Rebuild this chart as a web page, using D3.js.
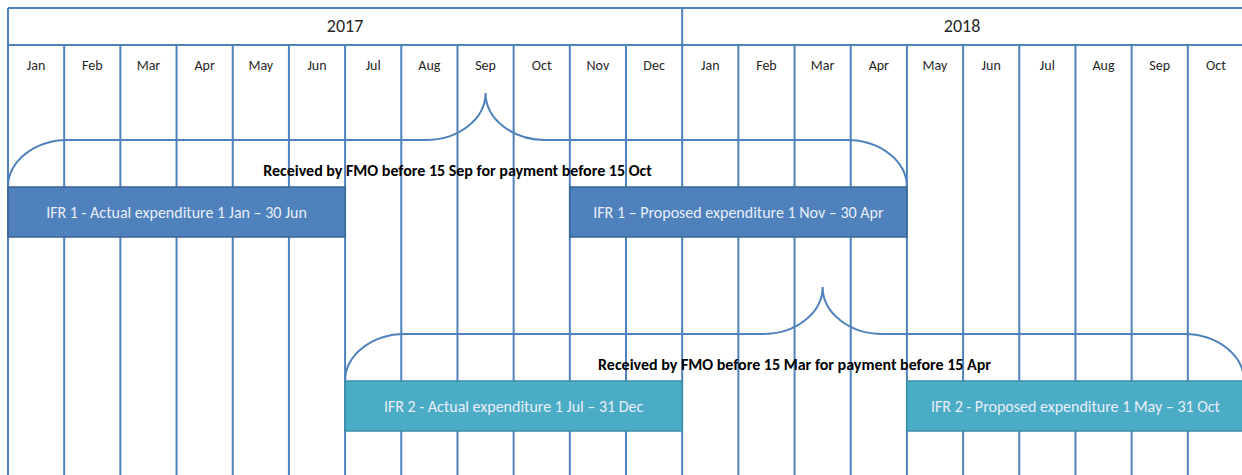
<!DOCTYPE html>
<html lang="en">
<head>
  <meta charset="utf-8">
  <title>IFR timeline</title>
  <script src="https://d3js.org/d3.v7.min.js"></script>
  <style>
    body { margin: 0; background: #fff; }
    text { font-family: Carlito, Lato, sans-serif; }
  </style>
</head>
<body>
  <div id="chart"></div>
  <script>
    // months along the top, Jan 2017 .. Oct 2018
    var months = ["Jan","Feb","Mar","Apr","May","Jun","Jul","Aug","Sep","Oct","Nov","Dec",
                  "Jan","Feb","Mar","Apr","May","Jun","Jul","Aug","Sep","Oct"];
    var years = ["2017", "2018"];
    var yearStart = [0, 12];          // month index where each year begins
    var yearEnd = [12, 22];

    // bars: label, start month, end month, row
    var barLabels = ["IFR 1 - Actual expenditure 1 Jan \u2013 30 Jun",
                     "IFR 1 \u2013 Proposed expenditure 1 Nov \u2013 30 Apr",
                     "IFR 2 - Actual expenditure 1 Jul \u2013 31 Dec",
                     "IFR 2 - Proposed expenditure 1 May \u2013 31 Oct"];
    var barStart = [0, 10, 6, 16];
    var barEnd = [6, 16, 12, 22];
    var barRow = [0, 0, 1, 1];

    // braces: span in months, tip (deadline) and caption
    var braceLabels = ["Received by FMO before 15 Sep for payment before 15 Oct",
                       "Received by FMO before 15 Mar for payment before 15 Apr"];
    var braceStart = [0, 6];
    var braceEnd = [16, 22];
    var braceTip = [8.5, 14.5];
    var braceRow = [0, 1];

    var width = 1242, height = 475;
    var blue = "#4f81bd";
    var fills = ["#4f81bd", "#4bacc6"];
    var strokes = ["#3a6493", "#3a8fa6"];

    var x = d3.scaleLinear().domain([0, months.length]).range([8, 1244]);
    var rowY = d3.scaleLinear().domain([0, 1]).range([187, 381]); // top of bars in each row
    var barH = 50, braceStep = 47, rx = 60;

    var svg = d3.select("#chart").append("svg")
      .attr("width", width).attr("height", height);

    // header frame
    svg.append("line").attr("x1", x(0)).attr("x2", width).attr("y1", 8).attr("y2", 8)
      .attr("stroke", blue).attr("stroke-width", 2);
    svg.append("line").attr("x1", x(0)).attr("x2", width).attr("y1", 45).attr("y2", 45)
      .attr("stroke", blue).attr("stroke-width", 2);
    svg.append("line").attr("x1", x(0)).attr("x2", x(0)).attr("y1", 8).attr("y2", height)
      .attr("stroke", blue).attr("stroke-width", 2);
    svg.selectAll(".ydiv").data(yearStart.slice(1)).enter().append("line")
      .attr("x1", function (d) { return x(d); }).attr("x2", function (d) { return x(d); })
      .attr("y1", 8).attr("y2", 45)
      .attr("stroke", blue).attr("stroke-width", 2);

    // month grid lines
    svg.selectAll(".mdiv").data(d3.range(1, months.length)).enter().append("line")
      .attr("x1", function (d) { return x(d); }).attr("x2", function (d) { return x(d); })
      .attr("y1", 45).attr("y2", height)
      .attr("stroke", blue).attr("stroke-width", 2);

    svg.selectAll(".year").data(years).enter().append("text")
      .attr("x", function (d, i) { return (x(yearStart[i]) + Math.min(x(yearEnd[i]), width)) / 2; })
      .attr("y", 26).attr("dy", "0.35em")
      .attr("text-anchor", "middle").attr("font-size", 18).attr("fill", "#262626")
      .text(function (d) { return d; });

    svg.selectAll(".month").data(months).enter().append("text")
      .attr("x", function (d, i) { return x(i + 0.5); })
      .attr("y", 65).attr("dy", "0.35em")
      .attr("text-anchor", "middle").attr("font-size", 14).attr("fill", "#262626")
      .text(function (d) { return d; });

    // braces
    function bracePath(i) {
      var x0 = x(braceStart[i]), x1 = x(braceEnd[i]), xt = x(braceTip[i]);
      var yb = rowY(braceRow[i]), ym = yb - braceStep, yt = ym - braceStep;
      return "M" + x0 + "," + yb +
        "A" + rx + "," + braceStep + " 0 0 1 " + (x0 + rx) + "," + ym +
        "L" + (xt - rx) + "," + ym +
        "A" + rx + "," + braceStep + " 0 0 0 " + xt + "," + yt +
        "A" + rx + "," + braceStep + " 0 0 0 " + (xt + rx) + "," + ym +
        "L" + (x1 - rx) + "," + ym +
        "A" + rx + "," + braceStep + " 0 0 1 " + x1 + "," + yb;
    }
    svg.selectAll(".brace").data(braceLabels).enter().append("path")
      .attr("d", function (d, i) { return bracePath(i); })
      .attr("fill", "none").attr("stroke", blue).attr("stroke-width", 2);

    svg.selectAll(".bracelabel").data(braceLabels).enter().append("text")
      .attr("x", function (d, i) { return (x(braceStart[i]) + x(braceEnd[i])) / 2; })
      .attr("y", function (d, i) { return rowY(braceRow[i]) - 17; })
      .attr("dy", "0.35em")
      .attr("text-anchor", "middle").attr("font-size", 16).attr("font-weight", "bold")
      .attr("fill", "#000")
      .text(function (d) { return d; });

    // bars
    var bars = svg.selectAll(".bar").data(barLabels).enter().append("g");
    bars.append("rect")
      .attr("x", function (d, i) { return x(barStart[i]); })
      .attr("y", function (d, i) { return rowY(barRow[i]); })
      .attr("width", function (d, i) { return x(barEnd[i]) - x(barStart[i]); })
      .attr("height", barH)
      .attr("fill", function (d, i) { return fills[barRow[i]]; })
      .attr("stroke", function (d, i) { return strokes[barRow[i]]; })
      .attr("stroke-width", 1.5);
    bars.append("text")
      .attr("x", function (d, i) { return (x(barStart[i]) + x(barEnd[i])) / 2; })
      .attr("y", function (d, i) { return rowY(barRow[i]) + barH / 2; })
      .attr("dy", "0.35em")
      .attr("text-anchor", "middle").attr("font-size", 16).attr("fill", "#e8eef7")
      .text(function (d) { return d; });
  </script>
</body>
</html>
